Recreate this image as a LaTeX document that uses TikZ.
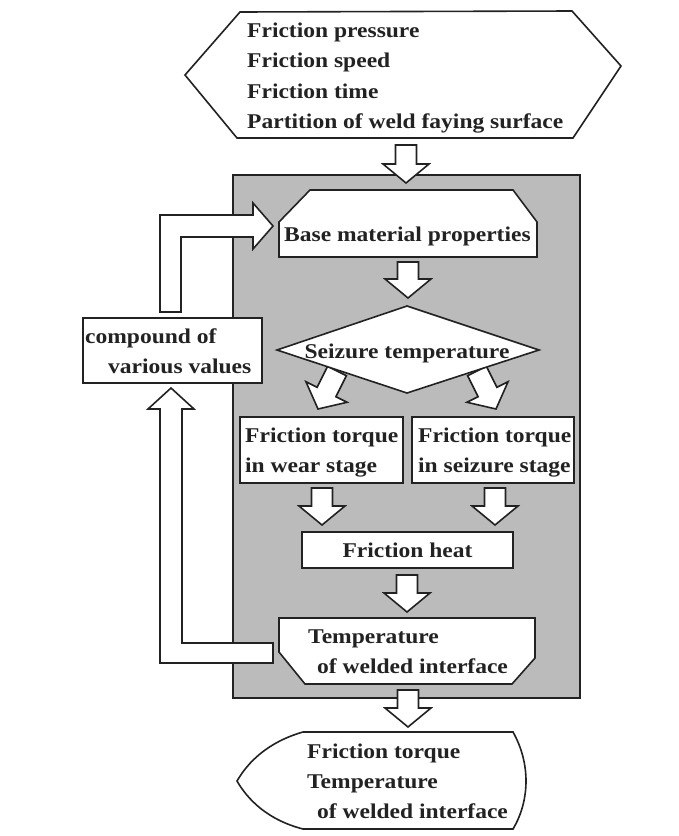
\documentclass[tikz,border=0pt]{standalone}
\usepackage{fontspec}
\setmainfont{Liberation Serif}[FakeStretch=1.12]
\usetikzlibrary{calc}
\definecolor{ink}{HTML}{222222}
\definecolor{shade}{HTML}{BBBBBB}
\tikzset{
  ln/.style={draw=ink, line width=1.6pt, line join=miter},
  box/.style={ln, fill=white},
  barrow/.style={ln, fill=white},
  txt/.style={font=\fontsize{21}{30}\selectfont\bfseries, text=ink, inner sep=0pt, anchor=base west},
  ctxt/.style={txt, anchor=base},
}
\newcommand\blockarrow[2]{%
  \path[barrow] let \p1=(#1), \p2=(#2),
     \n1={atan2(\y2-\y1,\x2-\x1)}, \n2={veclen(\x2-\x1,\y2-\y1)} in
     [shift={(\p1)}, rotate=\n1]
     (0pt,-10.5pt) -- ({\n2-19pt},-10.5pt) -- ({\n2-19pt},-23pt) -- ({\n2+0pt},0pt)
     -- ({\n2-19pt},23pt) -- ({\n2-19pt},10.5pt) -- (0pt,10.5pt) -- cycle;}
\begin{document}
\begin{tikzpicture}[x=1pt,y=-1pt]
\useasboundingbox[fill=white] (0,0) rectangle (678,836);

% input hexagon
\path[box] (185,75) -- (240,12) -- (572,11) -- (621,66) -- (573,138) -- (237,138) -- cycle;

% shaded panel
\node (panel) [ln, fill=shade, minimum width=347pt, minimum height=523pt, inner sep=0pt] at (406.5,436.5) {};

% feedback loop arrows
\path[barrow] (160,312) -- (160,215) -- (253,215) -- (253,203) -- (273,226) -- (253,249)
   -- (253,237) -- (181,237) -- (181,312) -- cycle;
\path[barrow] (160,663) -- (160,409) -- (148,409) -- (171,388) -- (194,409) -- (182,409)
   -- (182,643) -- (273,643) -- (273,663) -- cycle;

% arrow end points
\coordinate (a1s) at (406,145); \coordinate (a1e) at (406,183);
\coordinate (a2s) at (408,262); \coordinate (a2e) at (408,298);
\coordinate (d1s) at (337,371); \coordinate (d1e) at (318,409);
\coordinate (d2s) at (477,371); \coordinate (d2e) at (496,409);
\coordinate (a3s) at (322,488); \coordinate (a3e) at (322,525);
\coordinate (a4s) at (495,488); \coordinate (a4e) at (495,525);
\coordinate (a5s) at (407,575); \coordinate (a5e) at (407,612);
\coordinate (a6s) at (408,690); \coordinate (a6e) at (408,727);

\blockarrow{a1s}{a1e}
\blockarrow{a2s}{a2e}
\blockarrow{d1s}{d1e}
\blockarrow{d2s}{d2e}
\blockarrow{a3s}{a3e}
\blockarrow{a4s}{a4e}
\blockarrow{a5s}{a5e}
\blockarrow{a6s}{a6e}

% boxes
\path[box] (279,257) -- (279,222) -- (310,190) -- (513,190) -- (537,222) -- (537,257) -- cycle;
\path[box] (277,350) -- (407,306) -- (539,350) -- (407,393) -- cycle;
\node (comp) [box, minimum width=179pt, minimum height=65pt, inner sep=0pt] at (172.5,350.5) {};
\node (torqL) [box, minimum width=163pt, minimum height=66pt, inner sep=0pt] at (321.5,450) {};
\node (torqR) [box, minimum width=162pt, minimum height=66pt, inner sep=0pt] at (493,450) {};
\node (heat) [box, minimum width=211pt, minimum height=36pt, inner sep=0pt] at (407.5,550) {};
\path[box] (279,618) -- (535,618) -- (535,658) -- (512,684) -- (305,684) -- (279,652) -- cycle;

% output shape
\path[box] (303,732) -- (513,732) .. controls (522,748) and (526,765) .. (526,781)
   .. controls (526,797) and (522,814) .. (513,829) -- (303,829)
   .. controls (268,820) and (248,800) .. (237,781)
   .. controls (248,762) and (268,742) .. (303,732) -- cycle;

% texts
\node (in1) [txt] at (247,37) {Friction pressure};
\node (in2) [txt] at (247,67.5) {Friction speed};
\node (in3) [txt] at (247,98) {Friction time};
\node (in4) [txt] at (247,128.5) {Partition of weld faying surface};
\node (base) [txt] at (284,241) {Base material properties};
\node (comp1) [txt] at (85,343) {compound of};
\node (comp2) [txt] at (108,373) {various values};
\node (seiz) [ctxt] at (407,358) {Seizure temperature};
\node (tl1) [txt] at (245,442) {Friction torque};
\node (tl2) [txt] at (245,472) {in wear stage};
\node (tr1) [txt] at (418,442) {Friction torque};
\node (tr2) [txt] at (418,472) {in seizure stage};
\node (heatt) [ctxt] at (407.5,557) {Friction heat};
\node (tmp1) [txt] at (308,643) {Temperature};
\node (tmp2) [txt] at (317,673) {of welded interface};
\node (out1) [txt] at (307,758) {Friction torque};
\node (out2) [txt] at (307,788) {Temperature};
\node (out3) [txt] at (317,818) {of welded interface};
\end{tikzpicture}
\end{document}
